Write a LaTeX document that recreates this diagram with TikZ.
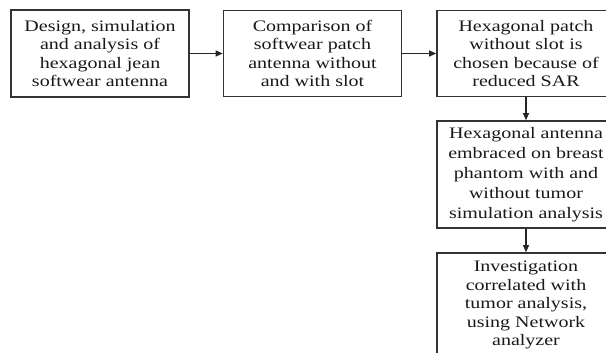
\documentclass[tikz,border=0pt]{standalone}
\usepackage{fontspec}
\usepackage{tikz}
\usetikzlibrary{arrows.meta}
\newfontfamily\wideserif[FakeStretch=1.25]{Liberation Serif}

\begin{document}
\begin{tikzpicture}[x=1pt,y=-1pt,
  stepbox/.style={draw=black!80,line width=1.6pt,fill=white,inner sep=0pt,
    minimum width=178pt,align=center,text=black!90,
    font=\wideserif\fontsize{16}{18.5}\selectfont},
  flowarrow/.style={draw=black!85,line width=1.1pt,-{Triangle[length=7pt,width=6pt]}}]
\useasboundingbox (0,0) rectangle (606,353);
\clip (0,0) rectangle (606,353);
% top row
\node[stepbox,minimum height=87pt] (design) at (100,53.5)
  {Design, simulation\\and analysis of\\hexagonal jean\\softwear antenna};
\node[stepbox,minimum height=86pt] (compare) at (312.5,53.5)
  {Comparison of\\softwear patch\\antenna without\\and with slot};
\node[stepbox,minimum height=86pt] (choose) at (526,53.5)
  {Hexagonal patch\\without slot is\\chosen because of\\reduced SAR};
% right column
\node[stepbox,minimum height=107pt,font=\wideserif\fontsize{16}{20}\selectfont] (phantom) at (526,174.5)
  {Hexagonal antenna\\embraced on breast\\phantom with and\\without tumor\\simulation analysis};
\node[stepbox,minimum height=104pt] (network) at (526,305)
  {Investigation\\correlated with\\tumor analysis,\\using Network\\analyzer};
% connectors
\draw[flowarrow] (design) -- (compare);
\draw[flowarrow] (compare) -- (choose);
\draw[flowarrow] (choose) -- (phantom);
\draw[flowarrow] (phantom) -- (network);
\end{tikzpicture}
\end{document}
